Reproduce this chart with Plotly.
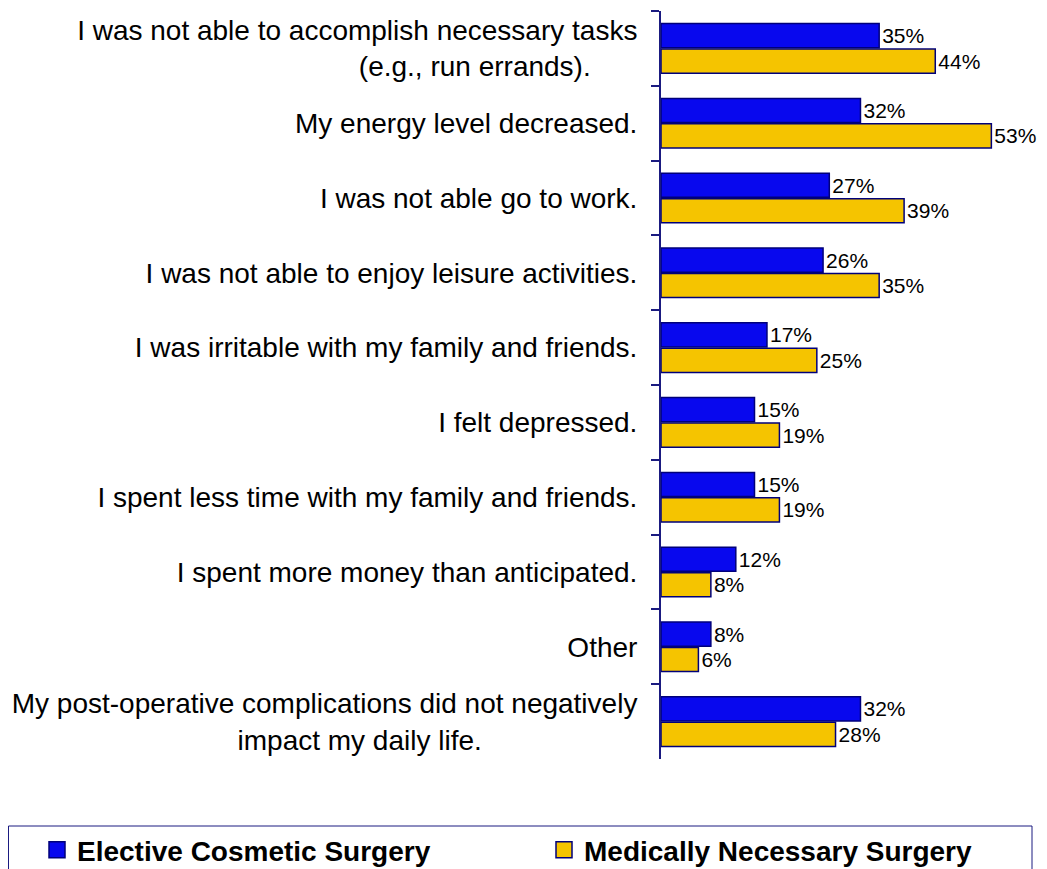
import plotly.graph_objects as go

categories = [
    "I was not able to accomplish necessary tasks<br>(e.g., run errands)." + "\u00a0" * 6,
    "My energy level decreased.",
    "I was not able go to work.",
    "I was not able to enjoy leisure activities.",
    "I was irritable with my family and friends.",
    "I felt depressed.",
    "I spent less time with my family and friends.",
    "I spent more money than anticipated.",
    "Other",
    "My post-operative complications did not negatively<br>impact my daily life." + "\u00a0" * 20,
]
elective = [35, 32, 27, 26, 17, 15, 15, 12, 8, 32]
medical = [44, 53, 39, 35, 25, 19, 19, 8, 6, 28]
series_names = ["Elective Cosmetic Surgery", "Medically Necessary Surgery"]
series_colors = ["#0808ee", "#f5c400"]
series_values = [elective, medical]

# page body adds an 8px offset; figure coordinates are shifted accordingly
W, H = 1039, 861
L, R, T, B = 653, 12, 3, 110
plot_w = W - L - R
plot_h = H - T - B

FONT = "Arial, Liberation Sans, sans-serif"
OUTLINE = "#00007a"

fig = go.Figure()
for name, color, vals in zip(series_names, series_colors, series_values):
    fig.add_trace(go.Bar(
        y=categories, x=vals, orientation="h", name=name,
        marker=dict(color=color, line=dict(color=OUTLINE, width=1.5)),
        text=[f"{v}%" for v in vals], textposition="outside",
        textfont=dict(family=FONT, size=21, color="#000000"),
        cliponaxis=False, showlegend=False,
    ))

# legend entries (larger square swatches)
for i, (name, color) in enumerate(zip(series_names, series_colors)):
    fig.add_trace(go.Scatter(
        x=[None], y=[None], mode="markers", name=name,
        marker=dict(symbol="square", size=16, color=color, line=dict(color=OUTLINE, width=1.5)),
        legend="legend" if i == 0 else "legend2", showlegend=True,
    ))

def px_to_paper_x(px):
    return (px - L) / plot_w

def px_to_paper_y(py):
    return (H - B - py) / plot_h

fig.add_shape(type="rect", xref="paper", yref="paper",
              x0=px_to_paper_x(0.5), x1=px_to_paper_x(1024),
              y0=px_to_paper_y(875), y1=px_to_paper_y(818),
              line=dict(color="#1a1a80", width=1), fillcolor="rgba(0,0,0,0)")

legend_common = dict(
    orientation="h", xref="container", yref="paper",
    y=px_to_paper_y(842), xanchor="left", yanchor="middle",
    font=dict(family=FONT, size=28, color="#000000", weight="bold"),
    itemwidth=30, itemsizing="trace", bgcolor="rgba(0,0,0,0)",
)

fig.update_layout(
    width=W, height=H,
    margin=dict(l=L, r=R, t=T, b=B, autoexpand=False),
    paper_bgcolor="white", plot_bgcolor="white",
    barmode="group", bargap=0.32, bargroupgap=0.05,
    font=dict(family=FONT, color="#000000"),
    xaxis=dict(range=[0, 60], visible=False, showgrid=False, zeroline=False),
    yaxis=dict(
        autorange="reversed", tickson="boundaries", ticks="outside", ticklen=8,
        tickcolor="#1a1a80", tickwidth=2, showline=True, linecolor="#1a1a80", linewidth=2,
        ticklabelstandoff=16,
        tickfont=dict(family=FONT, size=28, color="#000000"),
        showgrid=False, zeroline=False,
    ),
    legend=dict(x=29 / W, **legend_common),
    legend2=dict(x=536 / W, **legend_common),
    showlegend=True,
)

fig.write_html("out.html")
